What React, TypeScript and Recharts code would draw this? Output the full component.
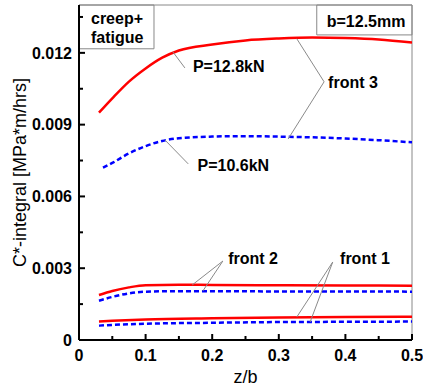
import React from "react";
import {
  LineChart,
  Line,
  XAxis,
  YAxis,
  ReferenceLine,
  ReferenceArea,
  ReferenceDot,
} from "recharts";

// z/b positions and C*-integral values (MPa*m/hrs) for each crack front
const zFront3High = [0.03, 0.05, 0.075, 0.1, 0.125, 0.15, 0.2, 0.25, 0.3, 0.35, 0.4, 0.45, 0.5];
const cFront3High = [0.0095, 0.0101, 0.0108, 0.01135, 0.0118, 0.0121, 0.01235, 0.01252, 0.0126, 0.01264, 0.01262, 0.01256, 0.01243];

const zFront3Low = [0.036, 0.05, 0.075, 0.1, 0.125, 0.15, 0.2, 0.25, 0.3, 0.35, 0.4, 0.45, 0.5];
const cFront3Low = [0.0072, 0.0074, 0.0078, 0.0081, 0.00832, 0.00843, 0.0085, 0.00852, 0.0085, 0.00847, 0.00842, 0.00835, 0.00826];

const zFront2 = [0.03, 0.05, 0.075, 0.1, 0.15, 0.2, 0.3, 0.4, 0.5];
const cFront2High = [0.00188, 0.00205, 0.0022, 0.00229, 0.00231, 0.0023, 0.00229, 0.00228, 0.00227];
const cFront2Low = [0.00164, 0.0018, 0.00195, 0.00202, 0.00204, 0.00204, 0.00203, 0.00203, 0.00202];

const zFront1 = [0.03, 0.05, 0.1, 0.2, 0.3, 0.4, 0.5];
const cFront1High = [0.00077, 0.0008, 0.00086, 0.00091, 0.00094, 0.00096, 0.00097];
const cFront1Low = [0.0006, 0.00063, 0.00068, 0.00072, 0.00075, 0.00076, 0.00077];

const xTicks = [0, 0.05, 0.1, 0.15, 0.2, 0.25, 0.3, 0.35, 0.4, 0.45, 0.5];
const yTicks = [0, 0.0015, 0.003, 0.0045, 0.006, 0.0075, 0.009, 0.0105, 0.012, 0.0135];

const FONT = '"Liberation Sans", Arial, Helvetica, sans-serif';
const RED = "#ff0000";
const BLUE = "#0000ff";
const LEADER = "#8a8a8a";

const zip = (zs: number[], cs: number[]) => zs.map((z, i) => ({ z, c: cs[i] }));

const isMultiple = (v: number, step: number) =>
  Math.abs(v / step - Math.round(v / step)) < 1e-6;

const fmt = (v: number) => (v === 0 ? "0" : String(+v.toFixed(4)));

// X ticks: inward tick marks drawn from the axis, label only on major ticks
const XTick = (props: any) => {
  const { x, y, payload } = props;
  const axisY = y - 10;
  const major = isMultiple(payload.value, 0.1);
  return (
    <g>
      <line x1={x} x2={x} y1={axisY} y2={axisY - (major ? 6 : 4)} stroke="#000" strokeWidth={2} />
      {major && (
        <text x={x} y={y} dy="0.71em" textAnchor="middle" fontFamily={FONT} fontWeight="bold" fontSize={16} fill="#000">
          {fmt(payload.value)}
        </text>
      )}
    </g>
  );
};

const YTick = (props: any) => {
  const { x, y, payload } = props;
  const axisX = x + 7;
  const major = isMultiple(payload.value, 0.003);
  return (
    <g>
      <line x1={axisX} x2={axisX + (major ? 6 : 4)} y1={y} y2={y} stroke="#000" strokeWidth={2} />
      {major && (
        <text x={x} y={y} dy="0.355em" textAnchor="end" fontFamily={FONT} fontWeight="bold" fontSize={16} fill="#000">
          {fmt(payload.value)}
        </text>
      )}
    </g>
  );
};

const textShape = (lines: string[], anchor: "start" | "middle" = "start") => (p: any) => (
  <text
    x={p.cx}
    y={p.cy}
    textAnchor={anchor}
    fontFamily={FONT}
    fontWeight="bold"
    fontSize={16}
    fill="#000"
  >
    {lines.map((l, i) => (
      <tspan key={i} x={p.cx} dy={i === 0 ? "0.355em" : "1.2em"}>
        {l}
      </tspan>
    ))}
  </text>
);

type Pt = { x: number; y: number };
const leaders: [Pt, Pt][] = [
  [{ x: 0.141, y: 0.01204 }, { x: 0.159, y: 0.01137 }],
  [{ x: 0.129, y: 0.00836 }, { x: 0.164, y: 0.00736 }],
  [{ x: 0.327, y: 0.01259 }, { x: 0.368, y: 0.01079 }],
  [{ x: 0.314, y: 0.0084 }, { x: 0.368, y: 0.01079 }],
  [{ x: 0.17, y: 0.0023 }, { x: 0.216, y: 0.0033 }],
  [{ x: 0.186, y: 0.00205 }, { x: 0.216, y: 0.0033 }],
  [{ x: 0.327, y: 0.00096 }, { x: 0.381, y: 0.00326 }],
  [{ x: 0.347, y: 0.00075 }, { x: 0.381, y: 0.00326 }],
];

const notes: { x: number; y: number; lines: string[] }[] = [
  { x: 0.171, y: 0.01142, lines: ["P=12.8kN"] },
  { x: 0.178, y: 0.00732, lines: ["P=10.6kN"] },
  { x: 0.374, y: 0.01075, lines: ["front 3"] },
  { x: 0.224, y: 0.00343, lines: ["front 2"] },
  { x: 0.392, y: 0.00343, lines: ["front 1"] },
  { x: 0.372, y: 0.0133, lines: ["b=12.5mm"] },
];

export default function App() {
  return (
    <div style={{ position: "absolute", left: 0, top: 0, background: "#fff" }}>
      <LineChart
        width={423}
        height={387}
        margin={{ top: 5, right: 11, bottom: 0, left: 0 }}
      >
        <XAxis
          type="number"
          dataKey="z"
          domain={[0, 0.5]}
          ticks={xTicks}
          allowDataOverflow
          height={47}
          tickSize={0}
          tickMargin={10}
          tickLine={false}
          axisLine={{ stroke: "#000", strokeWidth: 2 }}
          tick={<XTick />}
          interval={0}
          label={{
            content: (p: any) => (
              <text
                x={p.viewBox.x + p.viewBox.width / 2}
                y={p.viewBox.y + 37}
                dy="0.355em"
                textAnchor="middle"
                fontFamily={FONT}
                fontSize={18}
                fill="#000"
              >
                z/b
              </text>
            ),
          }}
        />
        <YAxis
          type="number"
          domain={[0, 0.014]}
          ticks={yTicks}
          allowDataOverflow
          width={79}
          tickSize={0}
          tickMargin={7}
          tickLine={false}
          axisLine={{ stroke: "#000", strokeWidth: 2 }}
          tick={<YTick />}
          interval={0}
          label={{
            content: (p: any) => {
              const cx = p.viewBox.x + 20;
              const cy = p.viewBox.y + p.viewBox.height / 2;
              return (
                <text
                  x={cx}
                  y={cy}
                  dy="0.355em"
                  transform={`rotate(-90, ${cx}, ${cy})`}
                  textAnchor="middle"
                  fontFamily={FONT}
                  fontSize={18}
                  fill="#000"
                >
                  C*-integral [MPa*m/hrs]
                </text>
              );
            },
          }}
        />

        {/* thin frame on top and right */}
        <ReferenceLine y={0.014} stroke="#888" strokeWidth={1} />
        <ReferenceLine x={0.5} stroke="#888" strokeWidth={1} />

        {/* boxed notes */}
        <ReferenceArea x1={0} x2={0.1126} y1={0.01217} y2={0.014} fill="#fff" fillOpacity={1} stroke="#888" strokeWidth={1} />
        <ReferenceArea x1={0.357} x2={0.5} y1={0.01275} y2={0.014} fill="#fff" fillOpacity={1} stroke="#888" strokeWidth={1} />

        <Line data={zip(zFront3High, cFront3High)} dataKey="c" type="monotone" stroke={RED} strokeWidth={2.5} dot={false} isAnimationActive={false} />
        <Line data={zip(zFront3Low, cFront3Low)} dataKey="c" type="monotone" stroke={BLUE} strokeWidth={2.5} strokeDasharray="5 3" dot={false} isAnimationActive={false} />
        <Line data={zip(zFront2, cFront2High)} dataKey="c" type="monotone" stroke={RED} strokeWidth={2.5} dot={false} isAnimationActive={false} />
        <Line data={zip(zFront2, cFront2Low)} dataKey="c" type="monotone" stroke={BLUE} strokeWidth={2.5} strokeDasharray="5 3" dot={false} isAnimationActive={false} />
        <Line data={zip(zFront1, cFront1High)} dataKey="c" type="monotone" stroke={RED} strokeWidth={2.5} dot={false} isAnimationActive={false} />
        <Line data={zip(zFront1, cFront1Low)} dataKey="c" type="monotone" stroke={BLUE} strokeWidth={2.5} strokeDasharray="5 3" dot={false} isAnimationActive={false} />

        {leaders.map((seg, i) => (
          <ReferenceLine key={`l${i}`} segment={seg} stroke={LEADER} strokeWidth={1} />
        ))}

        <ReferenceDot x={0.018} y={0.01346} r={0} shape={textShape(["creep+", "fatigue"])} />
        {notes.map((n, i) => (
          <ReferenceDot key={`n${i}`} x={n.x} y={n.y} r={0} shape={textShape(n.lines)} />
        ))}
      </LineChart>
    </div>
  );
}
